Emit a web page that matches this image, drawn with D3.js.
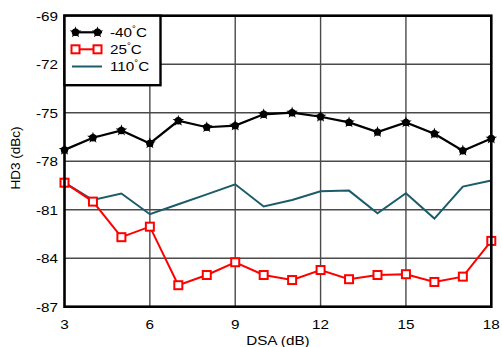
<!DOCTYPE html>
<html><head><meta charset="utf-8">
<script src="https://cdn.jsdelivr.net/npm/d3@7"></script>
<style>body{margin:0;background:#fff}svg{display:block}text{font-family:"Liberation Sans",Arial,sans-serif;fill:#000}</style>
</head><body><svg id="c" width="502" height="347"></svg>
<script>
const dsa = [3,4,5,6,7,8,9,10,11,12,13,14,15,16,17,18];
const m40 = [-77.3,-76.55,-76.1,-76.9,-75.5,-75.9,-75.8,-75.1,-75.0,-75.25,-75.6,-76.2,-75.6,-76.3,-77.35,-76.6];
const t25 = [-79.33,-80.5,-82.7,-82.05,-85.67,-85.04,-84.25,-85.04,-85.35,-84.73,-85.3,-85.04,-84.99,-85.47,-85.14,-82.93];
const t110 = [-79.33,-80.4,-80.0,-81.28,-80.66,-80.05,-79.43,-80.8,-80.4,-79.86,-79.82,-81.22,-79.98,-81.55,-79.57,-79.2];
const xTicks = [3,6,9,12,15,18];
const yTicks = [-87,-84,-81,-78,-75,-72,-69];
const seriesNames = ["-40", "25", "110"];

const L=64.5, R=491.3, T=15.7, B=306.7, SX=1.13;
const svg = d3.select("#c");
const x = d3.scaleLinear().domain([3,18]).range([L,R]);
const y = d3.scaleLinear().domain([-87,-69]).range([B,T]);

// grid
const g = svg.append("g");
g.selectAll(".vg").data(xTicks.slice(1,-1)).join("line")
  .attr("x1",d=>x(d)).attr("x2",d=>x(d)).attr("y1",T).attr("y2",B)
  .attr("stroke","#4a4a4a").attr("stroke-width",1.4);
g.selectAll(".hg").data(yTicks.slice(1,-1)).join("line")
  .attr("y1",d=>y(d)).attr("y2",d=>y(d)).attr("x1",L).attr("x2",R)
  .attr("stroke","#4a4a4a").attr("stroke-width",1.4);

function stext(px,py,str,anchor,size){
  return svg.append("text").attr("transform",`translate(${px},${py}) scale(${SX},1)`)
    .attr("text-anchor",anchor).attr("font-size",size||13.5).text(str);
}
yTicks.forEach(v=>stext(L-6.5,y(v)+4.8,v,"end"));
xTicks.forEach(v=>stext(x(v),329.3,v,"middle"));
stext((L+R)/2,344.8,"DSA (dB)","middle");
svg.append("text").attr("transform",`translate(19.5,158) rotate(-90)`)
  .attr("text-anchor","middle").attr("font-size",13.5).text("HD3 (dBc)");

const line = d3.line().x((d,i)=>x(dsa[i])).y(d=>y(d));
svg.append("path").attr("d",line(t110)).attr("fill","none").attr("stroke","#1b5c6b").attr("stroke-width",2);
svg.append("path").attr("d",line(t25)).attr("fill","none").attr("stroke","#f00").attr("stroke-width",2);
svg.selectAll(".sq").data(t25).join("rect")
  .attr("x",(d,i)=>x(dsa[i])-4).attr("y",d=>y(d)-4).attr("width",8).attr("height",8)
  .attr("fill","#fff").attr("stroke","#f00").attr("stroke-width",2);
svg.append("path").attr("d",line(m40)).attr("fill","none").attr("stroke","#000").attr("stroke-width",2.2);
const star = d3.symbol().type(d3.symbolStar).size(42);
function blackMarker(cx,cy){
  svg.append("circle").attr("cx",cx).attr("cy",cy).attr("r",3.7).attr("fill","#000");
  svg.append("path").attr("d",star()).attr("transform",`translate(${cx},${cy})`).attr("fill","#000");
}
m40.forEach((v,i)=>blackMarker(x(dsa[i]),y(v)));

svg.append("rect").attr("x",L).attr("y",T).attr("width",R-L).attr("height",B-T)
  .attr("fill","none").attr("stroke","#000").attr("stroke-width",2.6);

// legend
svg.append("rect").attr("x",L).attr("y",T).attr("width",96).attr("height",69.5)
  .attr("fill","#fff").attr("stroke","#000").attr("stroke-width",2.4);
const ly=[32.3,49.3,66.5];
svg.append("line").attr("x1",72).attr("x2",102).attr("y1",ly[0]).attr("y2",ly[0]).attr("stroke","#000").attr("stroke-width",2.2);
blackMarker(75.5,ly[0]); blackMarker(97.5,ly[0]);
svg.append("line").attr("x1",72).attr("x2",102).attr("y1",ly[1]).attr("y2",ly[1]).attr("stroke","#f00").attr("stroke-width",2);
[75.5,97.5].forEach(cx=>svg.append("rect").attr("x",cx-4).attr("y",ly[1]-4).attr("width",8).attr("height",8)
  .attr("fill","#fff").attr("stroke","#f00").attr("stroke-width",2));
svg.append("line").attr("x1",72).attr("x2",102).attr("y1",ly[2]).attr("y2",ly[2]).attr("stroke","#1b5c6b").attr("stroke-width",2);
seriesNames.forEach((n,i)=>{
  const t = svg.append("text").attr("transform",`translate(110,${ly[i]+4.8}) scale(${SX},1)`).attr("font-size",13.5);
  t.append("tspan").text(n);
  t.append("tspan").attr("font-size",8.5).attr("dy",-5).text("°");
  t.append("tspan").attr("dy",5).text("C");
});
</script></body></html>
